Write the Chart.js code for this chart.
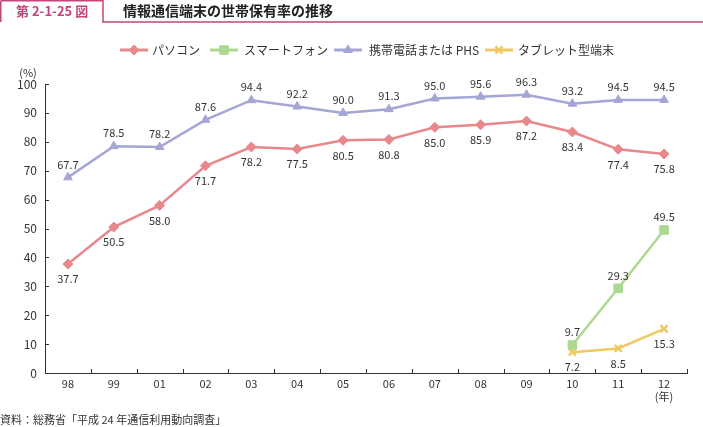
<!DOCTYPE html>
<html>
<head>
<meta charset="utf-8">
<script src="https://cdn.jsdelivr.net/npm/chart.js@4"></script>
<style>
  html, body { margin: 0; padding: 0; background: #fff; }
  #wrap { position: relative; width: 703px; height: 427px; }
</style>
</head>
<body>
<div id="wrap"><canvas id="myChart" width="703" height="427"></canvas></div>
<script>
const years = ['98','99','01','02','03','04','05','06','07','08','09','10','11','12'];
const pasokon = [37.7, 50.5, 58.0, 71.7, 78.2, 77.5, 80.5, 80.8, 85.0, 85.9, 87.2, 83.4, 77.4, 75.8];
const sumaho = [null, null, null, null, null, null, null, null, null, null, null, 9.7, 29.3, 49.5];
const keitai = [67.7, 78.5, 78.2, 87.6, 94.4, 92.2, 90.0, 91.3, 95.0, 95.6, 96.3, 93.2, 94.5, 94.5];
const tablet = [null, null, null, null, null, null, null, null, null, null, null, 7.2, 8.5, 15.3];
const yTicks = [0, 10, 20, 30, 40, 50, 60, 70, 80, 90, 100];

const FONT = '"Noto Sans CJK JP", "Noto Sans", sans-serif';
const TXT = '#333';

// position des étiquettes : au-dessus (-1) ou en dessous (+1)
const labelSide = [1, -1, -1, 1];

const extras = {
	id: 'extras',
	afterDraw(chart) {
		const ctx = chart.ctx;
		const xs = chart.scales.x, ys = chart.scales.y;
		const area = chart.chartArea;
		ctx.save();
		// petites graduations vers l'intérieur
		ctx.strokeStyle = '#333';
		ctx.lineWidth = 1;
		yTicks.forEach((v) => {
			const y = Math.round(ys.getPixelForValue(v)) + 0.5;
			ctx.beginPath(); ctx.moveTo(area.left, y); ctx.lineTo(area.left + 4, y); ctx.stroke();
		});
		const step = (area.right - area.left) / years.length;
		for (let i = 1; i <= years.length; i++) {
			const x = Math.round(area.left + i * step) + 0.5;
			ctx.beginPath(); ctx.moveTo(x, area.bottom); ctx.lineTo(x, area.bottom - 4); ctx.stroke();
		}
		// valeurs
		ctx.font = '11px ' + FONT;
		ctx.fillStyle = TXT;
		ctx.textAlign = 'center';
		ctx.textBaseline = 'middle';
		chart.data.datasets.forEach((ds, di) => {
			const meta = chart.getDatasetMeta(di);
			meta.data.forEach((pt, i) => {
				const v = ds.data[i];
				if (v == null) return;
				const off = labelSide[di] > 0 ? 15 : -13;
				ctx.fillText(v.toFixed(1), pt.x, pt.y + off);
			});
		});
		// unités
		ctx.fillText('(%)', 28, 73);
		ctx.fillText('(年)', xs.getPixelForValue(years.length - 1), 397);

		// titre
		ctx.strokeStyle = '#c4457c';
		ctx.lineWidth = 1.5;
		ctx.beginPath();
		ctx.moveTo(0.75, 0.75); ctx.lineTo(103, 0.75); ctx.lineTo(103, 22); ctx.lineTo(703, 22);
		ctx.moveTo(0.75, 0.75); ctx.lineTo(0.75, 22);
		ctx.stroke();
		ctx.textAlign = 'left';
		ctx.font = 'bold 13px ' + FONT;
		ctx.fillStyle = '#c4457c';
		ctx.fillText('第 2-1-25 図', 16, 11);
		ctx.fillStyle = '#222';
		ctx.font = 'bold 14px ' + FONT;
		ctx.fillText('情報通信端末の世帯保有率の推移', 123, 11);

		// légende
		const legendX = [[120, 152], [210, 244], [334, 369], [485, 518]];
		ctx.font = '12px ' + FONT;
		chart.data.datasets.forEach((ds, di) => {
			const [x0, tx] = legendX[di];
			const y = 50;
			ctx.strokeStyle = ds.borderColor;
			ctx.fillStyle = ds.borderColor;
			ctx.lineWidth = 3;
			ctx.beginPath(); ctx.moveTo(x0, y); ctx.lineTo(x0 + 28, y); ctx.stroke();
			ctx.lineWidth = ds.pointBorderWidth;
			Chart.helpers.drawPoint(ctx, {
				pointStyle: ds.pointStyle, radius: ds.pointRadius, borderWidth: ds.pointBorderWidth, rotation: 0
			}, x0 + 14, y);
			ctx.fillStyle = TXT;
			ctx.fillText(ds.label, tx, y);
		});
		// source
		ctx.font = '11px ' + FONT;
		ctx.fillStyle = TXT;
		ctx.fillText('資料：総務省「平成 24 年通信利用動向調査」', 0, 420);
		ctx.restore();
	}
};

const mk = (label, data, color, style, radius, bw) => ({
	label: label,
	data: data,
	borderColor: color,
	backgroundColor: color,
	borderWidth: 2.5,
	pointStyle: style,
	pointRadius: radius,
	pointBorderWidth: bw,
	pointBackgroundColor: color,
	pointBorderColor: color,
	tension: 0,
	spanGaps: false
});

const ctx = document.getElementById('myChart');
new Chart(ctx, {
	type: 'line',
	data: {
		labels: years,
		datasets: [
			mk('パソコン', pasokon, '#e8878c', 'rectRot', 5, 1),
			mk('スマートフォン', sumaho, '#acd890', 'rect', 6, 1),
			mk('携帯電話または PHS', keitai, '#a5a5d6', 'triangle', 5, 1),
			mk('タブレット型端末', tablet, '#f0c964', 'crossRot', 5, 2.5)
		]
	},
	options: {
		responsive: false,
		animation: false,
		layout: { padding: { top: 84, right: 16, left: 0, bottom: 0 } },
		plugins: { legend: { display: false }, tooltip: { enabled: false } },
		scales: {
			x: {
				offset: true,
				grid: { display: false, drawTicks: false },
				border: { display: true, color: '#333', width: 1 },
				ticks: { color: TXT, font: { family: FONT, size: 11 }, padding: 4, maxRotation: 0 },
				afterFit: (s) => { s.height = 54; }
			},
			y: {
				min: 0, max: 100,
				grid: { display: false, drawTicks: false },
				border: { display: true, color: '#333', width: 1 },
				ticks: { stepSize: 10, color: TXT, font: { family: FONT, size: 12 }, padding: 8 },
				afterFit: (s) => { s.width = 45; }
			}
		}
	},
	plugins: [extras]
});
</script>
</body>
</html>
